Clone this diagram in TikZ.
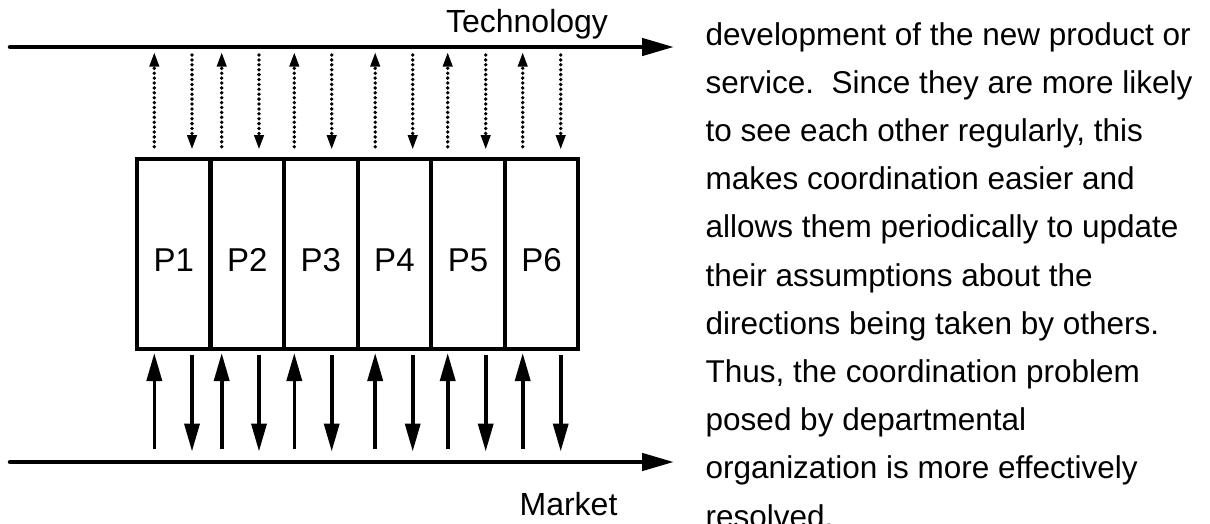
\documentclass[tikz,border=0pt]{standalone}
\usepackage{fontspec}
\setmainfont{Liberation Sans}
\usetikzlibrary{arrows.meta,calc}

\tikzset{
  axisline/.style={line width=4.5pt, line cap=round,
    -{Triangle[length=32pt,width=17pt]}},
  cell/.style={draw, line width=4.2pt, rectangle, inner sep=0pt,
    minimum width=73.55pt, minimum height=189.7pt,
    text height=36pt, text depth=0pt,
    font=\fontsize{33}{36}\selectfont},
  dotarrow/.style={line width=3.8pt, line cap=round,
    dash pattern=on 0pt off 4.9pt,
    -{Triangle[length=15pt,width=9pt]}},
  solidarrow/.style={line width=3.6pt,
    -{Triangle[length=28pt,width=15pt]}},
  lbl/.style={inner sep=0pt, anchor=base,
    font=\fontsize{32}{37}\selectfont},
  bodyline/.style={inner sep=0pt, anchor=base west,
    font=\fontsize{31.5}{37}\selectfont},
}

\begin{document}
\begin{tikzpicture}[x=1pt, y=-1pt]
  \useasboundingbox (0,0) rectangle (1210,523);

  % the two flows
  \coordinate (techstart) at (10,47);
  \coordinate (techend) at (674,47);
  \coordinate (mktstart) at (10,462);
  \coordinate (mktend) at (674,462);
  \draw[axisline] (techstart) -- (techend);
  \draw[axisline] (mktstart) -- (mktend);
  \node[lbl] (tech) at (527,32.5) {Technology};
  \node[lbl] (market) at (568.5,515) {Market};

  % the phases
  \foreach \i in {1,...,6} {
    \node[cell] (p\i) at ({137+73.55*(\i-0.5)},253.85) {P\i};
  }

  % exchanges with technology (dotted) and market (solid)
  \foreach \i/\u/\d in {1/154.3/192, 2/221.7/259, 3/294.3/331.7,
                        4/375.2/412.7, 5/447.7/485.7, 6/522.7/560.7} {
    \coordinate (tu\i a) at (\u,146.7);
    \coordinate (tu\i b) at (\u,51.7);
    \coordinate (td\i a) at (\d,55);
    \coordinate (td\i b) at (\d,150);
    \coordinate (mu\i a) at (\u,449);
    \coordinate (mu\i b) at (\u,353);
    \coordinate (md\i a) at (\d,355);
    \coordinate (md\i b) at (\d,451.5);
    \draw[dotarrow] (tu\i a) -- (tu\i b);
    \draw[dotarrow] (td\i a) -- (td\i b);
    \draw[solidarrow] (mu\i a) -- (mu\i b);
    \draw[solidarrow] (md\i a) -- (md\i b);
  }

  % running text beside the figure
  \foreach \t [count=\k] in {
    {development of the new product or},
    {service.\ \ Since they are more likely},
    {to see each other regularly, this},
    {makes coordination easier and},
    {allows them periodically to update},
    {their assumptions about the},
    {directions being taken by others.},
    {Thus, the coordination problem},
    {posed by departmental},
    {organization is more effectively},
    {resolved.}} {
    \node[bodyline] (line\k) at (705.5,{45+48.2*(\k-1)}) {\t};
  }
\end{tikzpicture}
\end{document}
